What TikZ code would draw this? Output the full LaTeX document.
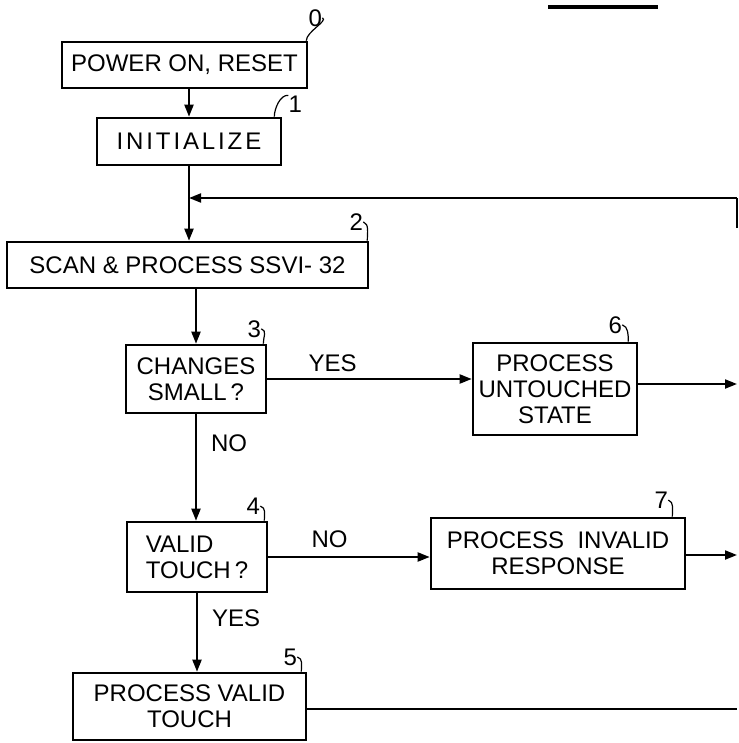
\documentclass[tikz,border=0pt]{standalone}
\usepackage{fontspec}
\setmainfont{Liberation Sans}
\usepackage{tikz}
\usetikzlibrary{positioning,arrows.meta}

\begin{document}
\begin{tikzpicture}[
  x=0.5pt, y=-0.5pt,
  box/.style={draw, line width=1.3pt, align=center, inner sep=0pt,
              font=\fontsize{12}{13}\selectfont},
  arrow/.style={->, line width=1pt, >={Triangle[length=6pt,width=4.5pt]}},
  link/.style={line width=1pt},
  num/.style={inner sep=0pt, font=\fontsize{12}{13}\selectfont},
  lead/.style={line width=0.6pt},
  tag/.style={inner sep=2pt, font=\fontsize{12}{13}\selectfont}
]
\useasboundingbox (0,0) rectangle (738,743);

% boxes
\node[box, minimum width=122.5pt, minimum height=23pt] (b0) at (184.5,65) {POWER ON, RESET};
\node[box, minimum width=92pt, minimum height=23.5pt] (b1) at (189,141.5) {{\addfontfeature{LetterSpace=12}INITIALIZE}};
\node[box, minimum width=180.5pt, minimum height=23pt] (b2) at (187.5,265) {SCAN \& PROCESS SSVI- 32};
\node[box, minimum width=70pt, minimum height=34pt] (b3) at (196,379) {CHANGES\\SMALL\,?};
\node[box, minimum width=82pt, minimum height=46pt] (b6) at (555,389) {PROCESS\\UNTOUCHED\\STATE};
\node[box, minimum width=70pt, minimum height=35pt, align=left] (b4) at (197,557) {VALID\\TOUCH\,?};
\node[box, minimum width=127pt, minimum height=35.5pt] (b7) at (558,553.5) {PROCESS\ \ INVALID\\RESPONSE};
\node[box, minimum width=116.5pt, minimum height=33.5pt] (b5) at (189.5,706.5) {PROCESS VALID\\TOUCH};

% reference numerals
\node[num, above right=7pt and 0pt of b0.north east] (n0) {0};
\node[num, above right=2pt and 3pt of b1.north east] (n1) {1};
\node[num, above left=5pt and 3pt of b2.north east] (n2) {2};
\node[num, above left=3pt and 3pt of b3.north east] (n3) {3};
\node[num, above left=4pt and 8pt of b6.north east] (n6) {6};
\node[num, above left=3pt and 4pt of b4.north east] (n4) {4};
\node[num, above left=4pt and 9pt of b7.north east] (n7) {7};
\node[num, above left=3pt and 5pt of b5.north east] (n5) {5};
\draw[lead] (n0.east) .. controls +(6,3) and +(0,-9) .. ([xshift=-1pt]b0.north east);
\draw[lead] (n1.north west) .. controls +(-8,-1) and +(0,-8) .. ([xshift=-4pt]b1.north east);
\draw[lead] (n2.east) .. controls +(6,2) and +(0,-8) .. ([xshift=-1pt]b2.north east);
\draw[lead] (n3.east) .. controls +(6,2) and +(0,-7) .. ([xshift=-2pt]b3.north east);
\draw[lead] (n6.east) .. controls +(6,2) and +(0,-7) .. ([xshift=-5pt]b6.north east);
\draw[lead] (n4.east) .. controls +(6,2) and +(0,-7) .. ([xshift=-2pt]b4.north east);
\draw[lead] (n7.east) .. controls +(6,2) and +(0,-7) .. ([xshift=-7pt]b7.north east);
\draw[lead] (n5.east) .. controls +(6,2) and +(0,-7) .. ([xshift=-3pt]b5.north east);

% off-page ends
\coordinate (ret) at (737,228);
\coordinate (retc) at (737,198);
\coordinate (join) at (b1.south |- retc);
\coordinate (out6) at (737,384);
\coordinate (out7) at (737,555);
\coordinate (out5) at (737,709);

% connectors
\draw[arrow] (b0.south -| b1.north) -- (b1.north);
\draw[link] (b1.south) -- (join);
\draw[lead] (ret) -- (retc);
\draw[arrow] (retc) -- (join);
\draw[arrow] (join) -- (join |- b2.north);
\draw[arrow] (b2.south -| b3.north) -- (b3.north);
\draw[arrow] (b3.east) -- node[tag, pos=0.32, above=1pt] {YES} (b3.east -| b6.west);
\draw[arrow] (b3.south) -- node[tag, pos=0.27, right=5pt] {NO} (b3.south |- b4.north);
\draw[arrow] (b4.east) -- node[tag, pos=0.38, above=2pt] {NO} (b4.east -| b7.west);
\draw[arrow] (b4.south) -- node[tag, pos=0.32, right=5pt] {YES} (b4.south |- b5.north);
\draw[arrow] (b6.east |- out6) -- (out6);
\draw[arrow] (b7.east |- out7) -- (out7);
\draw[link] (b5.east |- out5) -- (out5);

% title rule
\draw[line width=2pt] (548,7) -- (658,7);
\end{tikzpicture}
\end{document}
